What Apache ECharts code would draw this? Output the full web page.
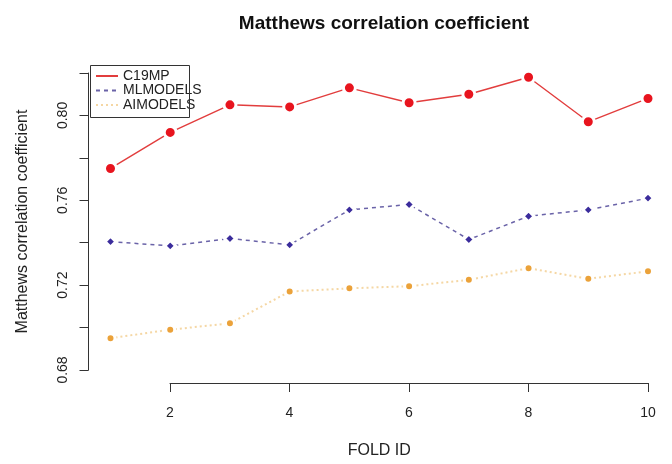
<!DOCTYPE html>
<html>
<head>
<meta charset="utf-8">
<script src="https://cdn.jsdelivr.net/npm/echarts@6/dist/echarts.min.js"></script>
<style>
  html, body { margin: 0; padding: 0; background: #ffffff; }
  #chart { width: 672px; height: 464px; }
</style>
</head>
<body>
<div id="chart"></div>
<script>
// Fold-by-fold Matthews correlation coefficient of three model families
const foldIds = [1, 2, 3, 4, 5, 6, 7, 8, 9, 10];
const c19mp = [0.775, 0.792, 0.805, 0.804, 0.813, 0.806, 0.810, 0.818, 0.797, 0.808];
const mlModels = [0.7405, 0.7385, 0.742, 0.739, 0.7555, 0.758, 0.7415, 0.7525, 0.7555, 0.761];
const aiModels = [0.695, 0.699, 0.702, 0.717, 0.7185, 0.7195, 0.7225, 0.728, 0.723, 0.7265];
const yTickLabels = ['0.68', '0.72', '0.76', '0.80'];

const FONT = '"Liberation Sans", Arial, Helvetica, sans-serif';
const INK = '#222222';

const pairs = (vals) => foldIds.map((f, i) => [f, vals[i]]);

const chart = echarts.init(document.getElementById('chart'), null, { renderer: 'canvas' });

chart.setOption({
  backgroundColor: '#ffffff',
  animation: false,
  title: {
    text: 'Matthews correlation coefficient',
    left: 379,
    textAlign: 'center',
    top: 9,
    textStyle: { fontFamily: FONT, fontSize: 19, fontWeight: 'bold', color: '#111111' }
  },
  legend: {
    orient: 'vertical',
    left: 89,
    top: 63,
    padding: [6, 6, 6, 6],
    itemWidth: 22,
    itemHeight: 8,
    itemGap: 0.5,
    itemStyle: { opacity: 0 },
    textStyle: { fontFamily: FONT, fontSize: 14, lineHeight: 13, color: INK, padding: [0, 0, 0, 0] },
    data: ['C19MP', 'MLMODELS', 'AIMODELS']
  },
  graphic: [{
    // frame around the legend
    type: 'rect',
    left: 88,
    top: 63,
    shape: { width: 99, height: 52 },
    style: { fill: 'none', stroke: '#333333', lineWidth: 1 },
    z: 10
  }],
  grid: [
    // grid 0: data area (x = 1..10, y = 0.68..0.82)
    { left: 110.5, right: 24, top: 73, bottom: 94 },
    // grid 1: holds the visible x axis, which runs from fold 2 to fold 10
    { left: 170, right: 24, top: 73, bottom: 94 }
  ],
  xAxis: [
    {
      gridIndex: 0,
      type: 'value',
      min: 1,
      max: 10,
      name: 'FOLD ID',
      nameLocation: 'middle',
      nameGap: 73,
      nameTextStyle: { fontFamily: FONT, fontSize: 16, color: INK },
      axisLine: { show: false },
      axisTick: { show: false },
      axisLabel: { show: false },
      splitLine: { show: false }
    },
    {
      gridIndex: 1,
      type: 'value',
      min: 2,
      max: 10,
      interval: 2,
      offset: 13,
      axisLine: { show: true, lineStyle: { color: '#333333', width: 1 } },
      axisTick: { show: true, length: 9, lineStyle: { color: '#333333', width: 1 } },
      axisLabel: { fontFamily: FONT, fontSize: 14, color: INK, margin: 23 },
      splitLine: { show: false }
    }
  ],
  yAxis: [
    {
      gridIndex: 0,
      type: 'value',
      min: 0.68,
      max: 0.82,
      interval: 0.02,
      offset: 22,
      name: 'Matthews correlation coefficient',
      nameLocation: 'middle',
      nameGap: 58,
      nameTextStyle: { fontFamily: FONT, fontSize: 16, color: INK },
      axisLine: { show: true, lineStyle: { color: '#333333', width: 1 } },
      axisTick: { show: true, length: 9, lineStyle: { color: '#333333', width: 1 } },
      axisLabel: {
        rotate: 90,
        margin: 18,
        fontFamily: FONT,
        fontSize: 14,
        color: INK,
        formatter: (v) => {
          const s = v.toFixed(2);
          return yTickLabels.includes(s) ? s : '';
        }
      },
      splitLine: { show: false }
    },
    {
      gridIndex: 1,
      type: 'value',
      min: 0.68,
      max: 0.82,
      show: false
    }
  ],
  series: [
    {
      name: 'C19MP',
      type: 'line',
      xAxisIndex: 0,
      yAxisIndex: 0,
      data: pairs(c19mp),
      symbol: 'circle',
      symbolSize: 12,
      clip: false,
      // white ring leaves a small gap between the line and each point
      itemStyle: { color: '#e8141e', borderColor: '#ffffff', borderWidth: 3 },
      lineStyle: { color: '#e23d3d', width: 1.4, type: 'solid' },
      z: 4
    },
    {
      name: 'MLMODELS',
      type: 'line',
      xAxisIndex: 0,
      yAxisIndex: 0,
      data: pairs(mlModels),
      symbol: 'diamond',
      symbolSize: 11,
      clip: false,
      itemStyle: { color: '#3b2c9c', borderColor: '#ffffff', borderWidth: 3 },
      lineStyle: { color: '#6a63a8', width: 1.5, type: [4, 4] },
      z: 3
    },
    {
      name: 'AIMODELS',
      type: 'line',
      xAxisIndex: 0,
      yAxisIndex: 0,
      data: pairs(aiModels),
      symbol: 'circle',
      symbolSize: 9,
      clip: false,
      itemStyle: { color: '#eba23a', borderColor: '#ffffff', borderWidth: 3 },
      lineStyle: { color: '#f5d7a4', width: 2, type: [2, 3] },
      z: 2
    }
  ]
});
</script>
</body>
</html>
